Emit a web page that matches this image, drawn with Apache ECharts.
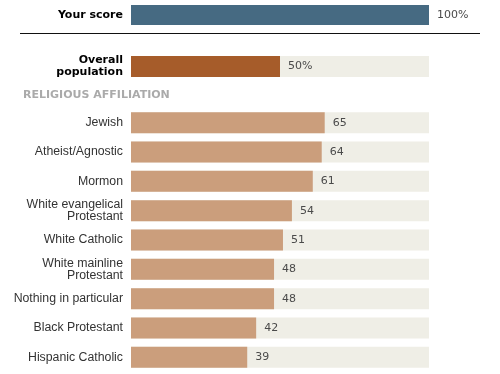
<!DOCTYPE html>
<html><head><meta charset="utf-8">
<script src="https://cdn.jsdelivr.net/npm/echarts@6/dist/echarts.min.js"></script>
<style>html,body{margin:0;padding:0;background:#fff}#c{width:500px;height:374px}</style>
</head><body><div id="c"></div>
<script>
const scoreCategories = ['Your score'];
const scoreValues = [100];
const overallCategories = ['Overall\npopulation'];
const overallValues = [50];
const groupTitle = 'RELIGIOUS AFFILIATION';
const groupCategories = ['Jewish','Atheist/Agnostic','Mormon','White evangelical\nProtestant','White Catholic','White mainline\nProtestant','Nothing in particular','Black Protestant','Hispanic Catholic'];
const groupValues = [65,64,61,54,51,48,48,42,39];

const chart = echarts.init(document.getElementById('c'), null, {renderer:'canvas'});
const bg = {color:'#efeee6'};
const valueLabel = (fmt) => ({show:true, position:'right', distance:8, color:'#4a4a4a', fontFamily:'DejaVu Sans', fontSize:11, formatter:fmt});
const xAx = (i) => ({gridIndex:i, type:'value', min:0, max:100, show:false});
const boldLab = {color:'#000', fontFamily:'DejaVu Sans', fontWeight:'bold', fontSize:11, lineHeight:12, margin:8};
const catLab = {color:'#333', fontFamily:'Liberation Sans', fontSize:12.3, lineHeight:12, margin:8};
chart.setOption({
  animation:false,
  title:{text:groupTitle, left:23, top:90, padding:0, textStyle:{color:'#aaa', fontFamily:'DejaVu Sans', fontWeight:'bold', fontSize:11}},
  grid:[
    {left:131, right:71, top:5, height:20},
    {left:131, right:71, top:56, height:21},
    {left:131, right:71, top:108, height:264}
  ],
  xAxis:[xAx(0), xAx(1), xAx(2)],
  yAxis:[
    {gridIndex:0, type:'category', data:scoreCategories, axisLine:{show:false}, axisTick:{show:false}, axisLabel:boldLab},
    {gridIndex:1, type:'category', data:overallCategories, axisLine:{show:false}, axisTick:{show:false}, axisLabel:boldLab},
    {gridIndex:2, type:'category', data:groupCategories, inverse:true, axisLine:{show:false}, axisTick:{show:false}, axisLabel:catLab}
  ],
  graphic:[{type:'line', shape:{x1:20, y1:33.5, x2:480, y2:33.5}, style:{stroke:'#111', lineWidth:1}}],
  series:[
    {type:'bar', xAxisIndex:0, yAxisIndex:0, data:scoreValues, barWidth:20, itemStyle:{color:'#466a82'}, label:valueLabel('{c}%'), silent:true},
    {type:'bar', xAxisIndex:1, yAxisIndex:1, data:overallValues, barWidth:21, showBackground:true, backgroundStyle:bg, itemStyle:{color:'#a65c2a'}, label:valueLabel('{c}%'), silent:true},
    {type:'bar', xAxisIndex:2, yAxisIndex:2, data:groupValues, barWidth:21, showBackground:true, backgroundStyle:bg, itemStyle:{color:'#cb9e7c'}, label:valueLabel('{c}'), silent:true}
  ]
});
</script></body></html>
